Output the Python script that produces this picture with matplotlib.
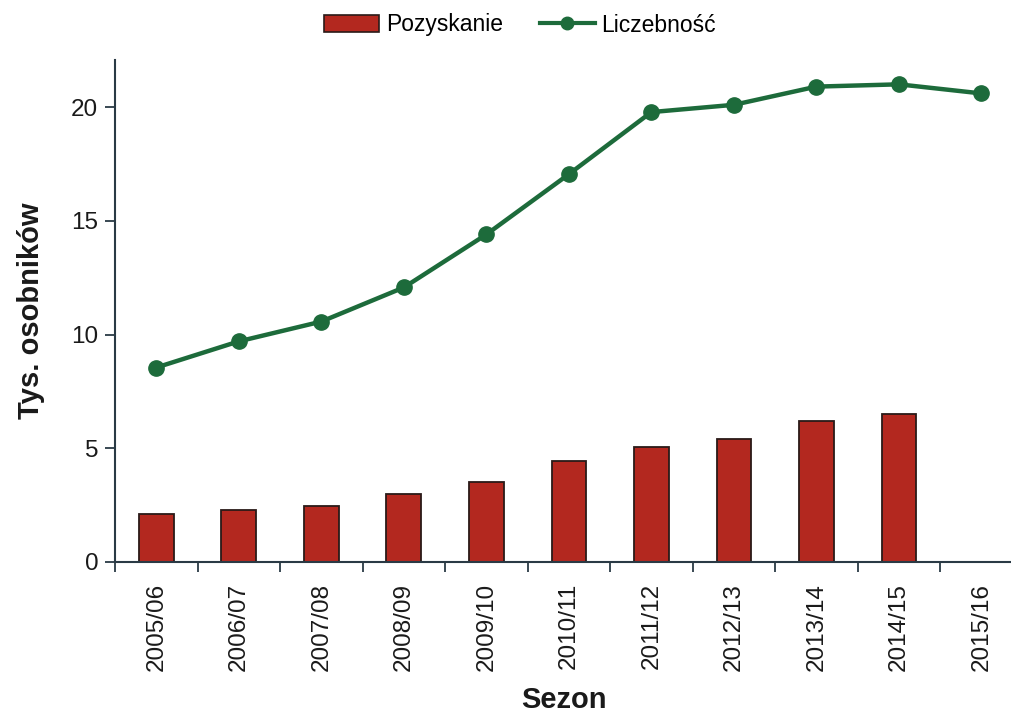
import matplotlib
matplotlib.use("Agg")
import matplotlib.pyplot as plt
from matplotlib.lines import Line2D
from matplotlib.patches import Patch

seasons = ["2005/06", "2006/07", "2007/08", "2008/09", "2009/10", "2010/11",
           "2011/12", "2012/13", "2013/14", "2014/15", "2015/16"]
harvest = [2.1, 2.3, 2.45, 3.0, 3.5, 4.45, 5.07, 5.4, 6.2, 6.5, 0.0]   # Pozyskanie
population = [8.55, 9.7, 10.57, 12.07, 14.4, 17.05, 19.78, 20.1, 20.9, 21.0, 20.6]  # Liczebność

BAR_COL  = "#b3281f"
LINE_COL = "#1d6b3b"
AX_COL   = "#2a3a45"

plt.rcParams["font.family"] = ["Liberation Sans", "DejaVu Sans"]

fig = plt.figure(figsize=(10.12, 7.13), dpi=100)
ax = fig.add_axes([115 / 1012, 1 - 562 / 713, 897 / 1012, 502 / 713])

x = list(range(len(seasons)))
ax.bar(x, harvest, width=0.42, color=BAR_COL, edgecolor="#2a1a18", lw=1.3, zorder=2)
ax.plot(x, population, color=LINE_COL, lw=3.2, marker="o", ms=11,
        mfc=LINE_COL, mec=LINE_COL, zorder=3)

ax.set_xlim(-0.5, 10.37)
ax.set_ylim(0, 22.07)
ax.set_yticks([0, 5, 10, 15, 20])
# category boundaries get the tick marks, labels sit in the middle
ax.set_xticks([i - 0.5 for i in range(11)], minor=False)
ax.set_xticklabels([])
ax.set_xticks(x, minor=True)
ax.set_xticklabels(seasons, minor=True, rotation=90, fontsize=17.5, color="#1a1a1a")
ax.tick_params(axis="x", which="minor", length=0, pad=15)
ax.tick_params(axis="x", which="major", length=7, width=1.3, color=AX_COL, direction="out")
ax.tick_params(axis="y", length=7, width=1.3, color=AX_COL, labelsize=17.5,
               labelcolor="#1a1a1a", pad=5)

for s in ["top", "right"]:
    ax.spines[s].set_visible(False)
for s in ["left", "bottom"]:
    ax.spines[s].set_color(AX_COL)
    ax.spines[s].set_linewidth(1.5)

ax.set_ylabel("Tys. osobników", fontsize=21, fontweight="bold", color="#1a1a1a", labelpad=19)
ax.set_xlabel("Sezon", fontsize=21, fontweight="bold", color="#1a1a1a", labelpad=11)

handles = [Patch(facecolor=BAR_COL, edgecolor="#2a1a18", lw=1.2),
           Line2D([], [], color=LINE_COL, lw=3, marker="o", ms=9)]
fig.legend(handles, ["Pozyskanie", "Liczebność"], loc="center", bbox_to_anchor=(520 / 1012, 1 - 25 / 713),
           ncol=2, frameon=False, fontsize=16.5, handlelength=2.4, handletextpad=0.3,
           columnspacing=1.6)

fig.savefig("out.png", dpi=100)
